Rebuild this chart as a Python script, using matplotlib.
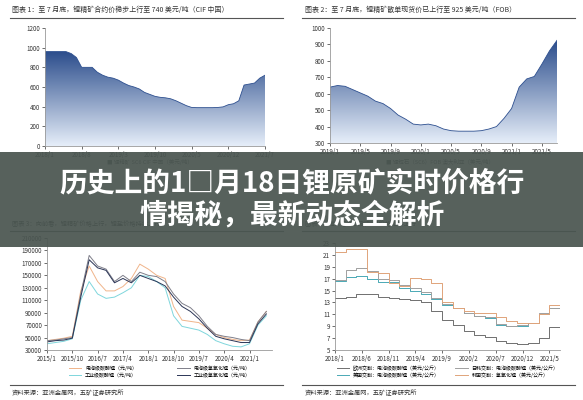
import matplotlib
matplotlib.use("Agg")
import matplotlib.pyplot as plt
import numpy as np
from matplotlib.patches import Rectangle, Polygon
from matplotlib.colors import LinearSegmentedColormap

plt.rcParams['font.family'] = ['Noto Sans CJK SC', 'DejaVu Sans']

W, H = 583, 400
# ---- data ----
p1_labels = ["2018/1", "2018/8", "2019/3", "2019/10", "2020/5", "2020/12", "2021/7"]
p1_vals = [960, 960, 960, 960, 960, 940, 900, 800, 800, 800, 750, 720, 700, 690, 670, 640,
           615, 600, 580, 545, 525, 505, 495, 490, 480, 460, 435, 410, 392, 390, 390, 390,
           390, 392, 398, 420, 430, 460, 620, 630, 640, 690, 720]
p2_labels = ["2019/1", "2019/5", "2019/9", "2020/1", "2020/5", "2020/9", "2021/1", "2021/5"]
p2_vals = [640, 650, 645, 625, 605, 585, 555, 540, 510, 470, 445, 415, 410, 415, 405, 385,
           375, 372, 372, 372, 375, 385, 400, 450, 510, 640, 690, 705, 780, 860, 925]
p3_labels = ["2015/1", "2015/10", "2016/7", "2017/4", "2018/1", "2018/10", "2019/7", "2020/4", "2021/1"]
p3_names = ["电池级碳酸锂（元/吨）", "工业级碳酸锂（元/吨）", "电池级氢氧化锂（元/吨）", "工业级氢氧化锂（元/吨）"]
p3_a = [45, 47, 49, 52, 125, 165, 140, 125, 125, 132, 145, 168, 160, 150, 145, 100, 78, 76, 74, 65, 55, 50, 47, 45, 46, 75, 92]
p3_b = [40, 42, 44, 48, 110, 140, 120, 113, 115, 122, 130, 150, 148, 140, 130, 85, 68, 65, 62, 55, 45, 40, 36, 35, 40, 70, 85]
p3_c = [45, 46, 48, 50, 120, 182, 165, 160, 140, 150, 140, 155, 150, 148, 140, 120, 105, 98, 85, 68, 55, 52, 50, 47, 45, 75, 92]
p3_d = [43, 45, 46, 49, 115, 175, 162, 158, 138, 145, 138, 150, 145, 140, 133, 115, 100, 92, 80, 65, 52, 48, 45, 42, 42, 72, 88]
p4_labels = ["2018/1", "2018/6", "2018/11", "2019/4", "2019/9", "2020/2", "2020/7", "2020/12", "2021/5"]
p4_names = ["欧洲交割：电池级碳酸锂（美元/公斤）", "美国交割：电池级碳酸锂（美元/公斤）",
            "日韩交割：电池级碳酸锂（美元/公斤）", "韩国交割：氢氧化锂（美元/公斤）"]
p4_eu = [13.8, 14.0, 14.4, 14.4, 13.9, 13.7, 13.6, 13.4, 13.0, 11.5, 10.0, 9.2, 8.2, 7.5, 7.2, 6.5, 6.2, 6.0, 6.2, 7.0, 8.8, 9.4]
p4_us = [16.6, 17.2, 17.5, 17.0, 16.5, 16.4, 15.5, 15.0, 14.5, 13.5, 12.6, 12.0, 11.2, 10.8, 10.3, 9.2, 9.0, 9.1, 9.5, 11.0, 12.0, 12.3]
p4_jk = [16.7, 18.5, 18.8, 18.3, 17.0, 16.8, 15.9, 15.4, 14.8, 13.8, 12.8, 12.0, 11.2, 10.8, 10.5, 9.3, 9.0, 9.2, 9.6, 11.2, 12.1, 12.6]
p4_kr = [21.5, 22.0, 22.0, 18.2, 18.0, 16.2, 15.8, 17.1, 17.0, 16.2, 13.0, 12.0, 11.5, 11.3, 11.2, 10.5, 9.8, 9.6, 9.5, 11.0, 12.5, 14.6]

fig = plt.figure(figsize=(W / 100, H / 100), dpi=100)
fig.patch.set_facecolor("white")

def ax_px(x0, y0, x1, y1):
    return fig.add_axes([x0 / W, 1 - y1 / H, (x1 - x0) / W, (y1 - y0) / H])

def ftext(x, y, s, **kw):
    return fig.text(x / W, 1 - y / H, s, **kw)

def hline(x0, x1, y, lw=0.8, c="#555555"):
    fig.add_artist(plt.Line2D([x0 / W, x1 / W], [1 - y / H, 1 - y / H], lw=lw, color=c))

def style(ax):
    for s in ["top", "right"]:
        ax.spines[s].set_visible(False)
    for s in ["left", "bottom"]:
        ax.spines[s].set_color("#999999")
        ax.spines[s].set_linewidth(0.6)
    ax.tick_params(labelsize=4.5, length=2, width=0.5, colors="#333333", pad=1.5)

def gradient_area(ax, x, y, ymin):
    ax.plot(x, y, lw=0.6, color="#2d4f8f")
    poly = Polygon(list(zip(x, y)) + [(x[-1], ymin), (x[0], ymin)], closed=True,
                   facecolor="none", edgecolor="none")
    ax.add_patch(poly)
    grad = np.linspace(0, 1, 256).reshape(-1, 1)
    cmap = LinearSegmentedColormap.from_list("g", ["#e6eef9", "#2b4d8c"])
    im = ax.imshow(grad, cmap=cmap, aspect="auto", origin="lower",
                   extent=[x[0], x[-1], ymin, max(y)], zorder=1)
    im.set_clip_path(poly)

# ---- panel 1 ----
ftext(12, 10, "图表 1：至 7 月底，锂精矿合约价稳步上行至 740 美元/吨（CIF 中国）", fontsize=5, color="#333", va="center")
hline(10, 283, 18)
ax1 = ax_px(45, 28, 265, 146)
x1 = np.arange(len(p1_vals))
gradient_area(ax1, x1, p1_vals, 0)
ax1.set_xlim(0, len(p1_vals) - 1)
ax1.set_ylim(0, 1200)
ax1.set_yticks(range(0, 1201, 200))
ax1.set_xticks(np.arange(0, 43, 7))
ax1.set_xticklabels(p1_labels)
style(ax1)
ftext(150, 162, "■ 锂精矿 SC6 CIF 中国（美元/吨）", fontsize=4, color="#555", ha="center", va="center")

# ---- panel 2 ----
ftext(305, 10, "图表 2：至 7 月底，锂精矿散单现货价已上行至 925 美元/吨（FOB）", fontsize=5, color="#333", va="center")
hline(302, 575, 18)
ax2 = ax_px(330, 28, 557, 143)
x2 = np.arange(len(p2_vals))
gradient_area(ax2, x2, p2_vals, 300)
ax2.set_xlim(0, len(p2_vals) - 1)
ax2.set_ylim(300, 1000)
ax2.set_yticks(range(300, 1001, 100))
ax2.set_xticks(np.arange(0, 31, 4))
ax2.set_xticklabels(p2_labels)
style(ax2)
ftext(440, 162, "■ 锂辉石（SC6）FOB 澳大利亚（美元/吨）", fontsize=4, color="#555", ha="center", va="center")

# ---- panel 3 ----
ftext(12, 224, "图表 3：向前看，锂精矿价格上行，锂盐价格持续上行", fontsize=4.5, color="#333", va="center")
hline(10, 283, 231)
ax3 = ax_px(47, 238, 272, 350)
x3 = np.arange(len(p3_a)) * 3
cols3 = ["#f0b48a", "#7fd6dc", "#7f7f8a", "#2b3556"]
for v, c, n in zip([p3_a, p3_b, p3_c, p3_d], cols3, p3_names):
    ax3.plot(x3, np.array(v) * 1000, color=c, lw=0.7, label=n)
ax3.set_xlim(0, 80)
ax3.set_ylim(30000, 210000)
ax3.set_yticks(range(30000, 210001, 20000))
ax3.set_xticks(np.arange(0, 80, 9))
ax3.set_xticklabels(p3_labels)
style(ax3)
ax3.legend(loc="upper center", bbox_to_anchor=(0.5, -0.1), ncol=2, fontsize=3.6, frameon=False,
           handlelength=2.5, columnspacing=8, labelspacing=0.3)
hline(10, 283, 385)
ftext(12, 393, "资料来源：亚洲金属网，五矿证券研究所", fontsize=4.5, color="#333", va="center")

# ---- panel 4 ----
ftext(305, 224, "图表 4：海外各地区碳酸锂价格继续上行", fontsize=4.5, color="#333", va="center")
hline(302, 575, 231)
ax4 = ax_px(335, 243, 560, 350)
x4 = np.arange(len(p4_eu)) * 2
cols4 = ["#6f6f6f", "#4aa9b5", "#a0a0a0", "#e0a47a"]
for v, c, n in zip([p4_eu, p4_us, p4_jk, p4_kr], cols4, p4_names):
    ax4.step(x4, v, where="post", color=c, lw=0.7, label=n)
ax4.set_xlim(0, 42)
ax4.set_ylim(5, 23)
ax4.set_yticks(range(5, 24, 2))
ax4.set_xticks(np.arange(0, 42, 5))
ax4.set_xticklabels(p4_labels)
style(ax4)
ax4.legend(loc="upper center", bbox_to_anchor=(0.5, -0.1), ncol=2, fontsize=3.6, frameon=False,
           handlelength=2.5, columnspacing=3, labelspacing=0.3)
hline(302, 575, 385)
ftext(305, 393, "资料来源：亚洲金属网，五矿证券研究所", fontsize=4.5, color="#333", va="center")

# ---- banner ----
fig.add_artist(Rectangle((0, 1 - 247 / H), 1, 95 / H, transform=fig.transFigure,
                         facecolor="#4a5550", alpha=0.93, edgecolor="none", zorder=10))
ftext(292, 183, "历史上的1□月18日锂原矿实时价格行", fontsize=20, fontweight="bold",
      color="white", ha="center", va="center", zorder=11)
ftext(292, 215, "情揭秘，最新动态全解析", fontsize=20, fontweight="bold",
      color="white", ha="center", va="center", zorder=11)

fig.savefig("out.png", dpi=100)
